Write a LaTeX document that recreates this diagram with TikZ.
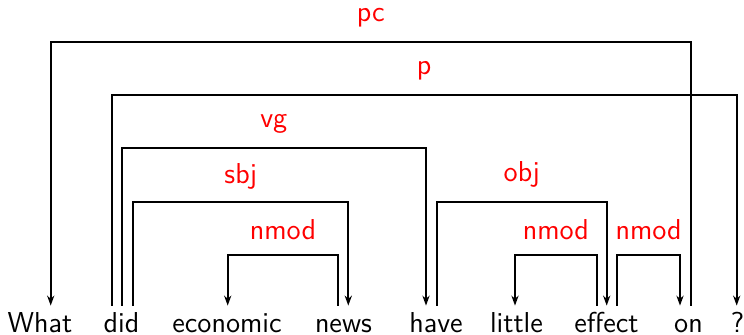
\documentclass[tikz,border=0pt]{standalone}
\usepackage{xcolor}
\definecolor{arcDark}{HTML}{000000}
\definecolor{labelRed}{HTML}{FF0000}
\usepackage{tikz}
\usetikzlibrary{positioning,calc,arrows.meta}
\tikzset{%
  wordNode/.style={%
    font=\Large\sffamily,
    anchor=base,
    text height=13.25pt,
    text depth=0pt,
    inner sep=0pt
  },
  depArrow/.style={%
    -{Stealth[length=5pt,width=3.6pt]},
    line width=0.9pt,
    color=arcDark
  },
  depLabel/.style={%
    font=\Large\sffamily,
    text=labelRed,
    anchor=base,
    pos=0.25,
    yshift=10pt,
    inner sep=0pt
  }
}

\begin{document}
\begin{tikzpicture}[x=0.5pt,y=-0.5pt]
            \useasboundingbox (0,0) rectangle (744,335);

            % sentence
            \node[wordNode] (what) at (40,332.5) {What};
            \node[wordNode] (did) at (121.5,332.5) {did};
            \node[wordNode] (economic) at (227,332.5) {economic};
            \node[wordNode] (news) at (343.5,332.5) {news};
            \node[wordNode] (have) at (436,332.5) {have};
            \node[wordNode] (little) at (516.5,332.5) {little};
            \node[wordNode] (effect) at (606.5,332.5) {effect};
            \node[wordNode] (on) at (688.5,332.5) {on};
            \node[wordNode] (qm) at (737.5,332.5) {?};

            % arc levels
            \coordinate (lvlA) at (0,42);
            \coordinate (lvlB) at (0,95);
            \coordinate (lvlC) at (0,148);
            \coordinate (lvlD) at (0,202);
            \coordinate (lvlE) at (0,255);

            % attachment points
            \coordinate (whatIn) at ([xshift=5.35pt]what.north);
            \coordinate (didP) at ([xshift=-4.9pt]did.north);
            \coordinate (didVg) at ([xshift=0.1pt]did.north);
            \coordinate (didSbj) at ([xshift=5.9pt]did.north);
            \coordinate (economicIn) at ([xshift=0.35pt]economic.north);
            \coordinate (newsOut) at ([xshift=-2.6pt]news.north);
            \coordinate (newsIn) at ([xshift=2.4pt]news.north);
            \coordinate (haveIn) at ([xshift=-5pt]have.north);
            \coordinate (haveOut) at ([xshift=0.35pt]have.north);
            \coordinate (littleIn) at ([xshift=-0.75pt]little.north);
            \coordinate (effectL) at ([xshift=-4.9pt]effect.north);
            \coordinate (effectIn) at ([xshift=0.1pt]effect.north);
            \coordinate (effectR) at ([xshift=5.4pt]effect.north);
            \coordinate (onIn) at ([xshift=-4.25pt]on.north);
            \coordinate (onOut) at ([xshift=1.1pt]on.north);
            \coordinate (qmIn) at ([xshift=-0.4pt]qm.north);

            % dependencies
            \draw[depArrow] (onOut) -- (onOut |- lvlA) -| node[depLabel] {pc} (whatIn);
            \draw[depArrow] (didP) -- (didP |- lvlB) -| node[depLabel] {p} (qmIn);
            \draw[depArrow] (didVg) -- (didVg |- lvlC) -| node[depLabel] {vg} (haveIn);
            \draw[depArrow] (didSbj) -- (didSbj |- lvlD) -| node[depLabel, yshift=-1pt] {sbj} (newsIn);
            \draw[depArrow] (newsOut) -- (newsOut |- lvlE) -| node[depLabel, yshift=-2.5pt] {nmod} (economicIn);
            \draw[depArrow] (haveOut) -- (haveOut |- lvlD) -| node[depLabel] {obj} (effectIn);
            \draw[depArrow] (effectL) -- (effectL |- lvlE) -| node[depLabel, yshift=-2.5pt] {nmod} (littleIn);
            \draw[depArrow] (effectR) -- (effectR |- lvlE) -| node[depLabel, yshift=-2.5pt] {nmod} (onIn);
        \end{tikzpicture}
\end{document}
